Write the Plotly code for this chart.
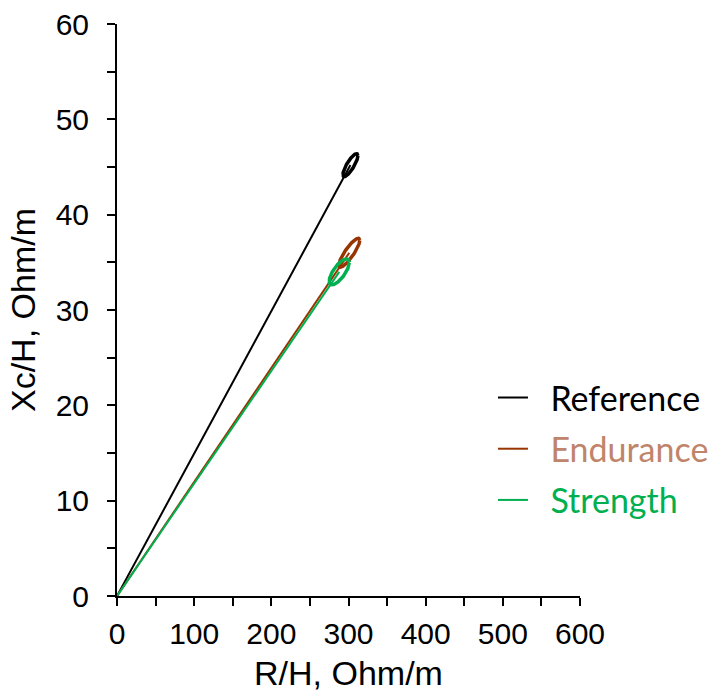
import numpy as np
import plotly.graph_objects as go

# Group summary: mean R/H and Xc/H, their spreads and the R–Xc correlation
groups = ["Reference", "Endurance", "Strength"]
mean_r = [302.5, 301.0, 288.0]      # R/H, Ohm/m
mean_xc = [45.2, 36.0, 34.0]        # Xc/H, Ohm/m
sd_r = [9.7, 13.6, 13.0]
sd_xc = [1.2, 1.52, 1.36]
corr = [0.82, 0.86, 0.72]

line_colors = ["#000000", "#993300", "#00B050"]
label_colors = ["#000000", "#C0846A", "#00B050"]

fig = go.Figure()
theta = np.linspace(0, 2 * np.pi, 181)
gap = "\u00a0" * 2

for i, name in enumerate(groups):
    # vector from origin to the group mean
    fig.add_trace(go.Scatter(
        x=[0, mean_r[i]], y=[0, mean_xc[i]],
        mode="lines",
        line=dict(color=line_colors[i], width=2),
        name=f"{gap}<span style='color:{label_colors[i]}'>{name}</span>",
        legendgroup=name,
        hoverinfo="skip",
    ))
    # spread ellipse around the mean
    ex = mean_r[i] + sd_r[i] * np.cos(theta)
    ey = mean_xc[i] + sd_xc[i] * (corr[i] * np.cos(theta)
                                  + np.sqrt(1 - corr[i] ** 2) * np.sin(theta))
    fig.add_trace(go.Scatter(
        x=ex, y=ey, mode="lines",
        line=dict(color=line_colors[i], width=3.5),
        legendgroup=name, showlegend=False, hoverinfo="skip",
    ))

axis_font = "Liberation Sans, Arial, sans-serif"
axis_common = dict(
    showline=True, linecolor="black", linewidth=2,
    ticks="outside", ticklen=8, tickwidth=2, tickcolor="black",
    showgrid=False, zeroline=False, automargin=False,
    tickfont=dict(family=axis_font, size=30, color="black"),
)

fig.update_layout(
    width=712, height=698,
    margin=dict(l=117, r=132, t=24, b=102, autoexpand=False),
    paper_bgcolor="white", plot_bgcolor="white",
    xaxis=dict(
        range=[0, 600], dtick=100, tick0=0, ticklabelstandoff=2,
        minor=dict(dtick=50, ticks="outside", ticklen=8, tickwidth=2, tickcolor="black"),
        title=dict(text="R/H, Ohm/m", standoff=12,
                   font=dict(family=axis_font, size=34, color="black")),
        **axis_common,
    ),
    yaxis=dict(
        range=[0, 60], dtick=10, tick0=0, ticklabelstandoff=12,
        minor=dict(dtick=5, ticks="outside", ticklen=8, tickwidth=2, tickcolor="black"),
        title=dict(text="Xc/H, Ohm/m", standoff=10,
                   font=dict(family=axis_font, size=34, color="black")),
        **axis_common,
    ),
    legend=dict(
        x=0.812, y=0.397, xanchor="left", yanchor="top",
        font=dict(family="Lato, Carlito, sans-serif", size=34, color="black"),
        tracegroupgap=4, bgcolor="rgba(0,0,0,0)",
    ),
    showlegend=True,
)

fig.write_html("out.html")
